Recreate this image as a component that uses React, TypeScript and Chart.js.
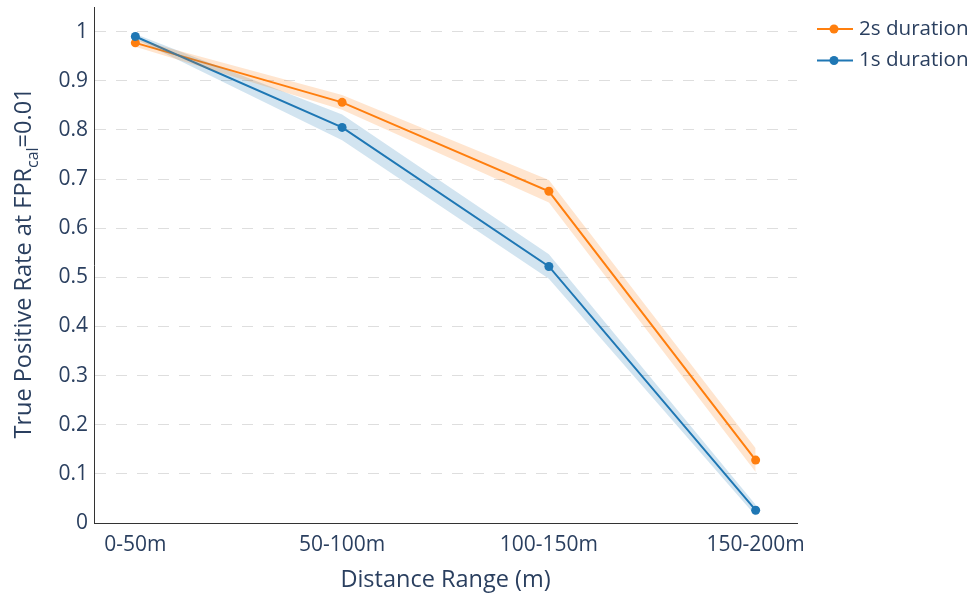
import React, { useEffect, useRef } from "react";
import { Chart, registerables } from "chart.js";

Chart.register(...registerables);

const categories = ["0-50m", "50-100m", "100-150m", "150-200m"];
const yTickValues = [0, 0.1, 0.2, 0.3, 0.4, 0.5, 0.6, 0.7, 0.8, 0.9, 1];

const tpr2s = [0.977, 0.856, 0.675, 0.128];
const tpr2sUpper = [0.985, 0.871, 0.698, 0.152];
const tpr2sLower = [0.969, 0.841, 0.652, 0.104];

const tpr1s = [0.99, 0.805, 0.522, 0.026];
const tpr1sUpper = [0.995, 0.831, 0.547, 0.037];
const tpr1sLower = [0.985, 0.779, 0.497, 0.015];

const label2s = "2s duration";
const label1s = "1s duration";
const xTitle = "Distance Range (m)";
const yTitleMain = "True Positive Rate at FPR";
const yTitleSub = "cal";
const yTitleEnd = "=0.01";

const ORANGE = "#ff7f0e";
const BLUE = "#1f77b4";
const TEXT = "#2a3f5f";
const FONT = '"Open Sans", "Noto Sans", sans-serif';

const toPts = (arr: number[]) => arr.map((v, i) => ({ x: i, y: v }));

const yTitlePlugin = {
  id: "yTitleSub",
  afterDraw(chart: any) {
    const ctx = chart.ctx as CanvasRenderingContext2D;
    const area = chart.chartArea;
    const yc = (area.top + area.bottom) / 2 - 2;
    const x0 = 31;
    ctx.save();
    ctx.fillStyle = TEXT;
    ctx.textBaseline = "alphabetic";
    ctx.textAlign = "left";
    const mainFont = `23.5px ${FONT}`;
    const subFont = `16px ${FONT}`;
    ctx.font = mainFont;
    const w1 = ctx.measureText(yTitleMain).width;
    const w3 = ctx.measureText(yTitleEnd).width;
    ctx.font = subFont;
    const w2 = ctx.measureText(yTitleSub).width;
    const total = w1 + w2 + w3;
    ctx.translate(x0, yc);
    ctx.rotate(-Math.PI / 2);
    let lx = -total / 2;
    ctx.font = mainFont;
    ctx.fillText(yTitleMain, lx, 0);
    lx += w1;
    ctx.font = subFont;
    ctx.fillText(yTitleSub, lx, 7);
    lx += w2;
    ctx.font = mainFont;
    ctx.fillText(yTitleEnd, lx, 0);
    ctx.restore();
  },
};

const legendPlugin = {
  id: "plotlyLegend",
  afterDraw(chart: any) {
    const ctx = chart.ctx as CanvasRenderingContext2D;
    const items = [label2s, label1s];
    const x0 = 817;
    const y0 = 29;
    const gap = 31.5;
    ctx.save();
    items.forEach((lbl, i) => {
      const ds = chart.data.datasets.find((d: any) => d.label === lbl);
      if (!ds) return;
      const y = y0 + i * gap;
      ctx.strokeStyle = ds.borderColor;
      ctx.lineWidth = 2;
      ctx.beginPath();
      ctx.moveTo(x0, y);
      ctx.lineTo(x0 + 36, y);
      ctx.stroke();
      ctx.fillStyle = ds.pointBackgroundColor;
      ctx.beginPath();
      ctx.arc(x0 + 17, y, 4.5, 0, Math.PI * 2);
      ctx.fill();
      ctx.fillStyle = TEXT;
      ctx.font = `20.6px ${FONT}`;
      ctx.textBaseline = "middle";
      ctx.textAlign = "left";
      ctx.fillText(lbl, x0 + 42, y);
    });
    ctx.restore();
  },
};

export default function App() {
  const canvasRef = useRef<HTMLCanvasElement | null>(null);

  useEffect(() => {
    document.body.style.margin = "0";
    const canvas = canvasRef.current;
    if (!canvas) return;
    const bandBase = {
      borderColor: "transparent",
      borderWidth: 0,
      pointRadius: 0,
      pointHoverRadius: 0,
      tension: 0,
    };
    const chart = new Chart(canvas, {
      type: "line",
      data: {
        datasets: [
          { ...bandBase, label: "2s upper", data: toPts(tpr2sUpper), fill: false },
          {
            ...bandBase,
            label: "2s lower",
            data: toPts(tpr2sLower),
            fill: "-1",
            backgroundColor: "rgba(255,127,14,0.2)",
          },
          { ...bandBase, label: "1s upper", data: toPts(tpr1sUpper), fill: false },
          {
            ...bandBase,
            label: "1s lower",
            data: toPts(tpr1sLower),
            fill: "-1",
            backgroundColor: "rgba(31,119,180,0.2)",
          },
          {
            label: label1s,
            data: toPts(tpr1s),
            borderColor: BLUE,
            backgroundColor: BLUE,
            pointBackgroundColor: BLUE,
            pointBorderWidth: 0,
            pointRadius: 4.5,
            borderWidth: 2,
            tension: 0,
            fill: false,
          },
          {
            label: label2s,
            data: toPts(tpr2s),
            borderColor: ORANGE,
            backgroundColor: ORANGE,
            pointBackgroundColor: ORANGE,
            pointBorderWidth: 0,
            pointRadius: 4.5,
            borderWidth: 2,
            tension: 0,
            fill: false,
          },
        ],
      } as any,
      options: {
        animation: false,
        responsive: false,
        events: [],
        layout: { padding: { left: 0, right: 175, top: 7, bottom: 0 } },
        plugins: {
          legend: { display: false },
          tooltip: { enabled: false },
          title: { display: false },
        },
        scales: {
          x: {
            type: "linear",
            min: -0.2,
            max: 3.2,
            afterBuildTicks: (scale: any) => {
              scale.ticks = categories.map((_, i) => ({ value: i }));
            },
            afterFit: (scale: any) => {
              scale.height = 73;
              scale.paddingLeft = 0;
              scale.paddingRight = 0;
            },
            grid: { display: false, drawTicks: false },
            border: { display: true, color: "#333", width: 1 },
            ticks: {
              autoSkip: false,
              maxRotation: 0,
              padding: 9,
              color: TEXT,
              font: { family: FONT, size: 21 },
              callback: (v: any) => categories[Math.round(v)] ?? "",
            },
            title: {
              display: true,
              text: xTitle,
              color: TEXT,
              font: { family: FONT, size: 23.5 },
              padding: { top: 0, bottom: 2 },
            },
          },
          y: {
            type: "linear",
            min: 0,
            max: 1.05,
            afterBuildTicks: (scale: any) => {
              scale.ticks = yTickValues.map((v) => ({ value: v }));
            },
            afterFit: (scale: any) => {
              scale.width = 94;
              scale.paddingTop = 0;
              scale.paddingBottom = 0;
            },
            grid: {
              drawTicks: false,
              color: (c: any) => (c.tick && c.tick.value === 0 ? "rgba(0,0,0,0)" : "#dedede"),
              lineWidth: 1,
            },
            border: { display: true, color: "#333", width: 1, dash: [11, 10] },
            ticks: {
              padding: 6,
              color: TEXT,
              font: { family: FONT, size: 21 },
              callback: (v: any) => String(v),
            },
          },
        },
      } as any,
      plugins: [yTitlePlugin, legendPlugin],
    });
    return () => chart.destroy();
  }, []);

  return (
    <div style={{ width: 972, height: 596 }}>
      <canvas ref={canvasRef} width={972} height={596} style={{ display: "block" }} />
    </div>
  );
}
